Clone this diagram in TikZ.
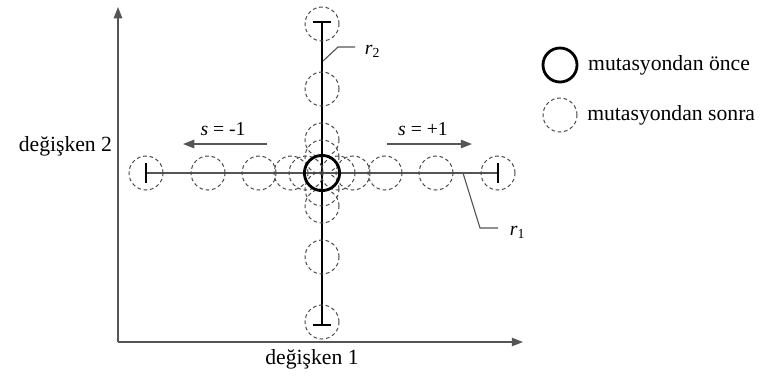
\documentclass[tikz,border=0pt]{standalone}
\usepackage{fontspec}
\setmainfont{Liberation Serif}
\usetikzlibrary{arrows.meta,positioning,calc}
\definecolor{AXIS-GRAY}{RGB}{85,85,85}
\definecolor{DASH-GRAY}{RGB}{70,70,70}

\begin{document}
\begin{tikzpicture}[x=0.025cm, y=-0.025cm,
  every node/.style={font=\fontsize{15.4}{18}\selectfont},
  aftercirc/.style={circle, draw=DASH-GRAY, line width=0.7pt, dash pattern=on 2.6pt off 2pt, minimum size=0.85cm, inner sep=0pt},
  beforecirc/.style={circle, draw=black, line width=2pt, minimum size=0.88cm, inner sep=0pt},
  tbar/.style={line width=1.3pt},
  leader/.style={AXIS-GRAY, line width=0.8pt},
  small/.style={font=\fontsize{14}{16}\selectfont}]
  \useasboundingbox (0,0) rectangle (767,378);

  % Axes
  \coordinate (o) at (118,342);
  \coordinate (ytip) at (118,7);
  \coordinate (xtip) at (523,342);
  \draw[AXIS-GRAY, line width=1pt, -{Triangle[length=8pt,width=6pt]}] (o) -- (ytip);
  \draw[AXIS-GRAY, line width=1pt, -{Triangle[length=8pt,width=6pt]}] (o) -- (xtip);
  \node[anchor=east] (var2) at (117,146) {değişken 2};
  \node (var1) at (312,359) {değişken 1};

  % Mutation lines r1 and r2
  \coordinate (c) at (322,173);
  \coordinate (hl) at (146,173);
  \coordinate (hr) at (498,173);
  \coordinate (vt) at (322,22);
  \coordinate (vb) at (322,325);
  \draw[AXIS-GRAY, line width=0.9pt] (hl) -- (hr);
  \draw[line width=0.9pt] (vt) -- (vb);
  \draw[tbar] ($(hl)+(0,-10)$) -- ($(hl)+(0,10)$);
  \draw[tbar] ($(hr)+(0,-10)$) -- ($(hr)+(0,10)$);
  \draw[tbar] ($(vt)+(-9,0)$) -- ($(vt)+(9,0)$);
  \draw[tbar] ($(vb)+(-9,0)$) -- ($(vb)+(9,0)$);

  % Points after mutation (dashed)
  \foreach \d [count=\i] in {-176,-114,-63,-31,-16,16,31,63,114,176}
    \node[aftercirc] (h\i) at ($(c)+(\d,0)$) {};
  \foreach \d [count=\i] in {-149,-84,-33,-16,16,33,84,149}
    \node[aftercirc] (v\i) at ($(c)+(0,\d)$) {};

  % Point before mutation
  \node[beforecirc] (start) at (c) {};

  % Labels r1 and r2
  \coordinate (r2a) at (323,61);
  \coordinate (r2b) at (338,47);
  \coordinate (r2c) at (355,47);
  \draw[leader] (r2a) -- (r2b) -- (r2c);
  \node[small, anchor=west] (r2) at (360,51) {\textit{r}\textsubscript{2}};
  \coordinate (r1a) at (463,173);
  \coordinate (r1b) at (480,228);
  \coordinate (r1c) at (498,228);
  \draw[leader] (r1a) -- (r1b) -- (r1c);
  \node[small, anchor=west] (r1) at (505,232) {\textit{r}\textsubscript{1}};

  % Step directions
  \coordinate (sl0) at (267,144);
  \coordinate (sl1) at (183,144);
  \coordinate (sr0) at (387,144);
  \coordinate (sr1) at (472,144);
  \draw[AXIS-GRAY, line width=1.2pt, -{Triangle[length=8pt,width=6pt]}] (sl0) -- (sl1);
  \draw[AXIS-GRAY, line width=1.2pt, -{Triangle[length=8pt,width=6pt]}] (sr0) -- (sr1);
  \node[small] (sneg) at (223,129) {\textit{s} = -1};
  \node[small] (spos) at (423,129) {\textit{s} = +1};

  % Legend
  \node[beforecirc, minimum size=0.85cm] (legbefore) at (560,65) {};
  \node[aftercirc] (legafter) at (560,115) {};
  \node[right=0.12cm of legbefore] (txtbefore) {mutasyondan önce};
  \node[right=0.12cm of legafter] (txtafter) {mutasyondan sonra};
\end{tikzpicture}
\end{document}
